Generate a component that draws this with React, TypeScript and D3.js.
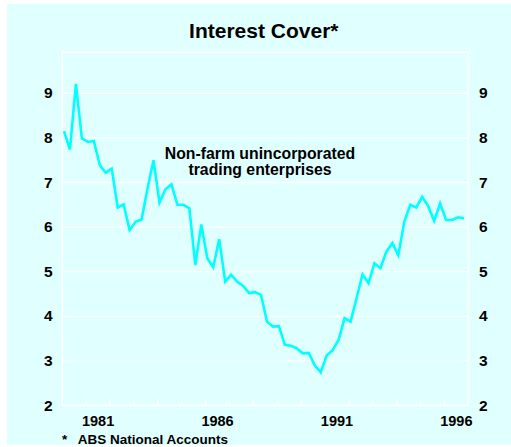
import React from "react";
import * as d3 from "d3";

const values: number[] = [
  8.15, 7.74, 9.21, 7.99, 7.91, 7.93, 7.39, 7.22, 7.31, 6.44,
  6.51, 5.93, 6.12, 6.17, 6.87, 7.5, 6.55, 6.85, 6.96, 6.5,
  6.5, 6.42, 5.15, 6.06, 5.3, 5.1, 5.73, 4.78, 4.93, 4.78,
  4.68, 4.52, 4.54, 4.48, 3.88, 3.77, 3.78, 3.36, 3.34, 3.28,
  3.17, 3.18, 2.9, 2.74, 3.12, 3.24, 3.47, 3.96, 3.88, 4.4,
  4.94, 4.74, 5.19, 5.08, 5.45, 5.64, 5.37, 6.12, 6.5, 6.44,
  6.68, 6.47, 6.14, 6.53, 6.16, 6.16, 6.22, 6.2,
];
const firstQuarter = 1980.07;
const dates: number[] = values.map((_, i) => firstQuarter + i * 0.25);

const yTicks: number[] = [2, 3, 4, 5, 6, 7, 8, 9];
const yearTicks: number[] = d3.range(1981, 1997);
const yearLabels: number[] = [1981, 1986, 1991, 1996];

const title = "Interest Cover*";
const annotation = ["Non-farm unincorporated", "trading enterprises"];
const footnote = "ABS National Accounts";

const W = 511;
const H = 447;
const left = 62.3;
const right = 468.3;
const top = 52.3;
const bottom = 405.5;
const font = "'Liberation Sans', Arial, Helvetica, sans-serif";
const bg = "#E0FFFF";

export default function App() {
  const x = d3.scaleLinear().domain([1980, 1997]).range([left, right]);
  const y = d3
    .scaleLinear()
    .domain([2, 2 + (bottom - top) / 44.6])
    .range([bottom, top]);
  const line = d3
    .line<number>()
    .x((_, i) => x(dates[i]))
    .y((d) => y(d));

  return (
    <div style={{ position: "absolute", left: 0, top: 0 }}>
      <svg width={W} height={H} style={{ display: "block" }}>
        <rect x={0} y={0} width={W} height={H} fill="#fff" />
        <rect x={7} y={4} width={W - 7} height={441} fill={bg} />
        <text
          x={263.8}
          y={37.7}
          textAnchor="middle"
          fontFamily={font}
          fontWeight="bold"
          fontSize={21}
          fill="#000"
        >
          {title}
        </text>
        {yTicks.slice(1).map((t) => (
          <line
            key={"g" + t}
            x1={left}
            x2={right}
            y1={y(t)}
            y2={y(t)}
            stroke="#fff"
            strokeWidth={1.3}
          />
        ))}
        <rect
          x={left}
          y={top}
          width={right - left}
          height={bottom - top}
          fill="none"
          stroke="#fff"
          strokeWidth={1.5}
        />
        {yearTicks.map((t) => (
          <line
            key={"t" + t}
            x1={x(t)}
            x2={x(t)}
            y1={bottom}
            y2={bottom - 7}
            stroke="#fff"
            strokeWidth={1.3}
          />
        ))}
        {yTicks.map((t) => (
          <g key={"l" + t} fontFamily={font} fontWeight="bold" fontSize={15.5} fill="#000">
            <text x={52.5} y={y(t) + 5} textAnchor="end">
              {t}
            </text>
            <text x={479} y={y(t) + 5} textAnchor="start">
              {t}
            </text>
          </g>
        ))}
        {yearLabels.map((t) => (
          <text
            key={"y" + t}
            x={x(t + 0.5)}
            y={426.3}
            textAnchor="middle"
            fontFamily={font}
            fontWeight="bold"
            fontSize={14.5}
            fill="#000"
          >
            {t}
          </text>
        ))}
        <path
          d={line(values) || ""}
          fill="none"
          stroke="#00FFFF"
          strokeWidth={2.6}
          strokeLinejoin="miter"
        />
        {annotation.map((s, i) => (
          <text
            key={"a" + i}
            x={260}
            y={159 + i * 15.5}
            textAnchor="middle"
            fontFamily={font}
            fontWeight="bold"
            fontSize={15.8}
            fill="#000"
          >
            {s}
          </text>
        ))}
        <text x={62} y={444} fontFamily={font} fontWeight="bold" fontSize={13.5} fill="#000">
          *
        </text>
        <text x={77.7} y={444} fontFamily={font} fontWeight="bold" fontSize={13.5} fill="#000">
          {footnote}
        </text>
      </svg>
    </div>
  );
}
